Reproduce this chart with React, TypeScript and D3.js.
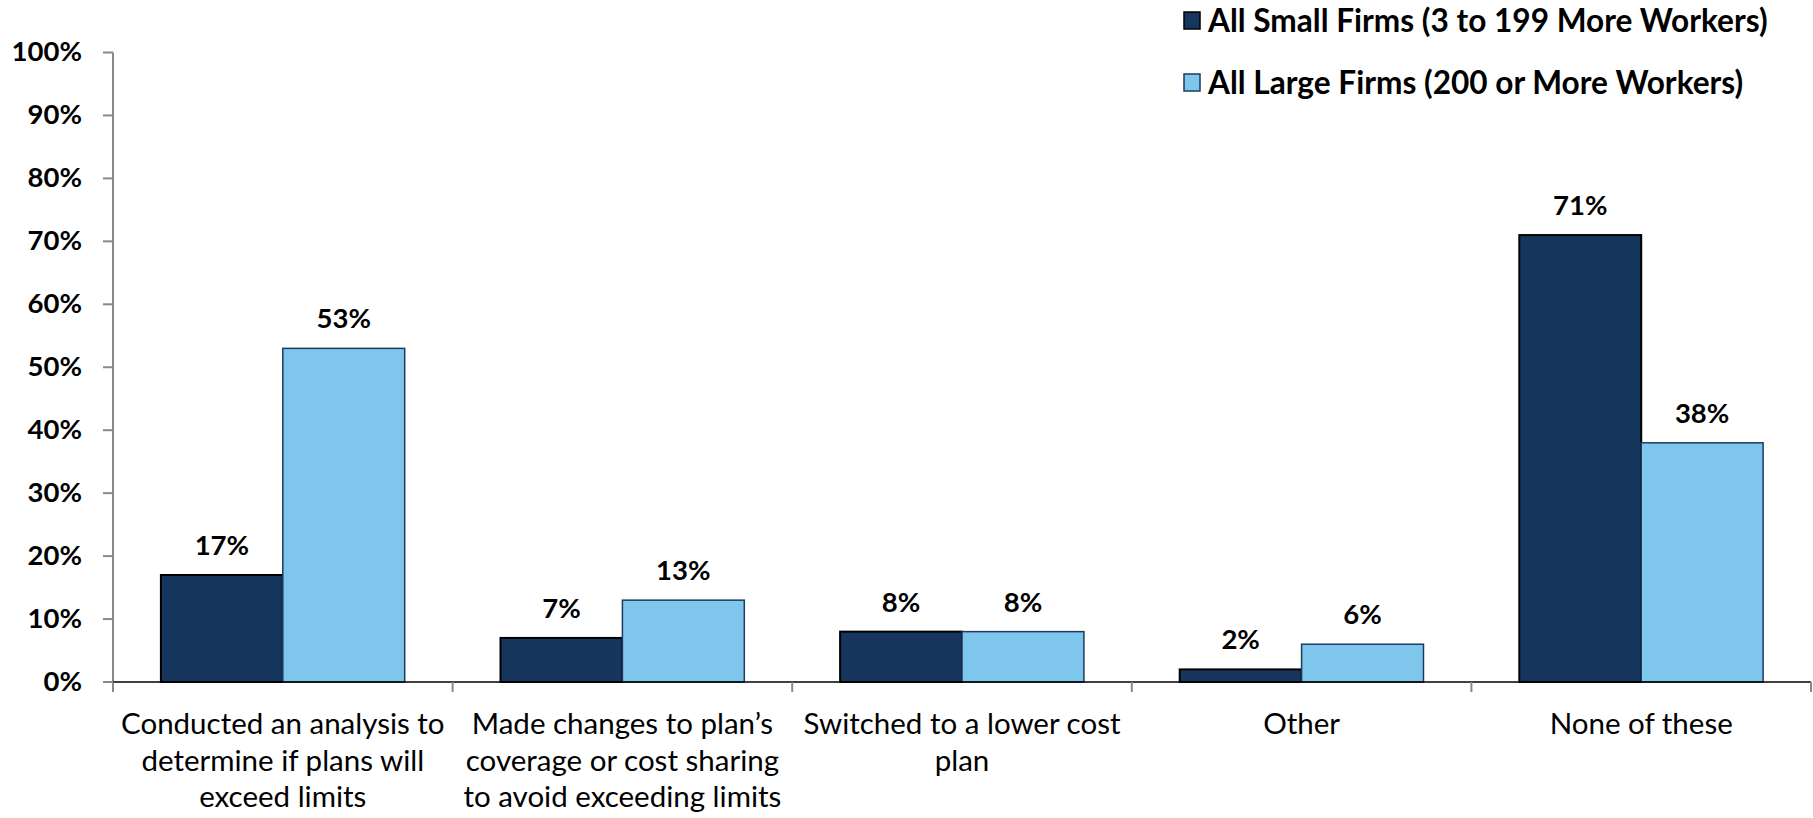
import React from "react";
import * as d3 from "d3";

const categories: string[][] = [
  ["Conducted an analysis to", "determine if plans will", "exceed limits"],
  ["Made changes to plan\u2019s", "coverage or cost sharing", "to avoid exceeding limits"],
  ["Switched to a lower cost", "plan"],
  ["Other"],
  ["None of these"],
];
const seriesNames = ["All Small Firms (3 to 199 More Workers)", "All Large Firms (200 or More Workers)"];
const smallFirms = [17, 7, 8, 2, 71];
const largeFirms = [53, 13, 8, 6, 38];
const yTicks = [0, 10, 20, 30, 40, 50, 60, 70, 80, 90, 100];

const W = 1813;
const H = 818;
const FONT = "Lato, 'Open Sans', sans-serif";
const fills = ["#17365d", "#7fc6ed"];
const strokes = ["#000000", "#1e3a5f"];

export default function App() {
  const left = 113;
  const right = 1811;
  const y0 = 682;
  const y100 = 52.5;
  const x = d3.scaleBand<number>().domain(d3.range(categories.length)).range([left, right]).paddingInner(0).paddingOuter(0);
  const x1 = d3.scaleBand<number>().domain([0, 1]).range([0, x.bandwidth()]).paddingInner(0).paddingOuter(0.393);
  const y = d3.scaleLinear().domain([0, 100]).range([y0, y100]);
  const series = [smallFirms, largeFirms];

  return (
    <svg width={W} height={H} style={{ position: "absolute", left: 0, top: 0, background: "#fff" }} fontFamily={FONT}>
      {/* y axis */}
      <line x1={left} x2={left} y1={y(100)} y2={y0} stroke="#898989" strokeWidth={2} />
      {yTicks.map((t) => (
        <g key={t}>
          <line x1={left - 10} x2={left} y1={y(t)} y2={y(t)} stroke="#898989" strokeWidth={2} />
          <text x={82} y={y(t)} dy="0.31em" textAnchor="end" fontSize={27.5} fontWeight={700} fill="#000">
            {t}%
          </text>
        </g>
      ))}
      {/* bars */}
      {series.map((vals, s) =>
        vals.map((v, i) => {
          const bx = (x(i) as number) + (x1(s) as number);
          return (
            <rect
              key={`${s}-${i}`}
              x={bx}
              y={y(v)}
              width={x1.bandwidth()}
              height={y0 - y(v)}
              fill={fills[s]}
              stroke={strokes[s]}
              strokeWidth={s === 0 ? 2 : 1.5}
            />
          );
        })
      )}
      {/* value labels */}
      {series.map((vals, s) =>
        vals.map((v, i) => (
          <text
            key={`l${s}-${i}`}
            x={(x(i) as number) + (x1(s) as number) + x1.bandwidth() / 2}
            y={y(v) - 20}
            textAnchor="middle"
            fontSize={27.5}
            fontWeight={700}
            fill="#000"
          >
            {v}%
          </text>
        ))
      )}
      {/* x axis */}
      <line x1={left} x2={right} y1={y0} y2={y0} stroke="#000" strokeWidth={1.5} />
      {d3.range(categories.length + 1).map((i) => {
        const tx = left + i * x.step();
        return <line key={`xt${i}`} x1={tx} x2={tx} y1={y0} y2={y0 + 10} stroke="#898989" strokeWidth={2} />;
      })}
      {categories.map((lines, i) => (
        <text key={`c${i}`} textAnchor="middle" fontSize={29.5} fill="#000">
          {lines.map((ln, j) => (
            <tspan key={j} x={(x(i) as number) + x.bandwidth() / 2} y={734 + j * 36.5}>
              {ln}
            </tspan>
          ))}
        </text>
      ))}
      {/* legend */}
      {seriesNames.map((name, s) => {
        const ly = [32, 94][s];
        return (
          <g key={`lg${s}`}>
            <rect x={1184} y={ly - 20} width={16} height={17} fill={fills[s]} stroke={strokes[s]} strokeWidth={1.5} />
            <text x={1208} y={ly} fontSize={31.6} fontWeight={700} fill="#000">
              {name}
            </text>
          </g>
        );
      })}
    </svg>
  );
}
